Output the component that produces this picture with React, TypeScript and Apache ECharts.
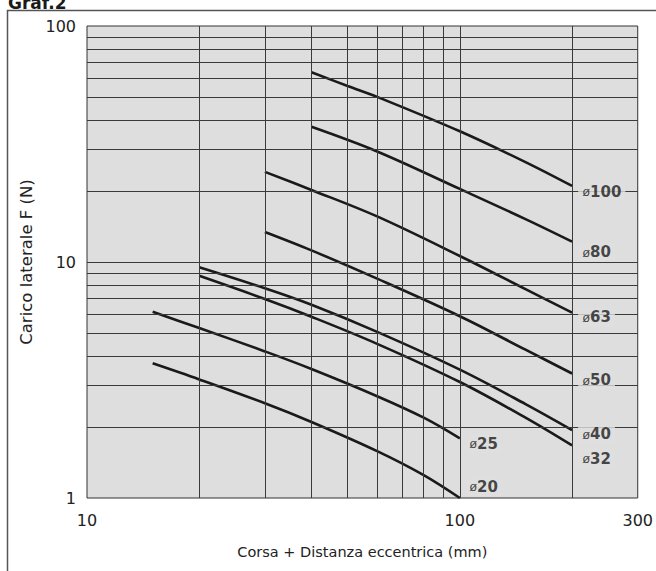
import React, { useEffect, useRef } from "react";
import * as echarts from "echarts";

// Axis tick labels
const xTickLabels = [10, 100, 300];
const yTickLabels = [1, 10, 100];
// Grid lines (log grid)
const gridX = [20, 30, 40, 50, 60, 70, 80, 90, 100, 200];
const gridY = [2, 3, 4, 5, 6, 7, 8, 9, 10, 20, 30, 40, 50, 60, 70, 80, 90];

// Curves: stroke + eccentric distance (mm) vs lateral load F (N)
const x100 = [40, 50, 60, 100, 150, 200];
const f100 = [63.7, 55.7, 50.1, 35.8, 26.5, 21.0];
const x80 = [40, 60, 100, 150, 200];
const f80 = [37.4, 29.4, 20.4, 15.2, 12.2];
const x63 = [30, 40, 60, 100, 150, 200];
const f63 = [24.1, 20.2, 15.6, 10.6, 7.67, 6.1];
const x50 = [30, 40, 60, 100, 150, 200];
const f50 = [13.4, 11.2, 8.5, 5.89, 4.25, 3.37];
const x40 = [20, 30, 40, 60, 100, 150, 200];
const f40 = [9.5, 7.74, 6.59, 5.06, 3.5, 2.5, 1.94];
const x32 = [20, 30, 40, 60, 100, 150, 200];
const f32 = [8.74, 6.97, 5.86, 4.5, 3.1, 2.19, 1.67];
const x25 = [15, 20, 30, 40, 60, 80, 100];
const f25 = [6.15, 5.25, 4.18, 3.52, 2.7, 2.19, 1.79];
const x20 = [15, 20, 30, 40, 60, 80, 100];
const f20 = [3.72, 3.18, 2.52, 2.1, 1.58, 1.25, 1.0];

// Curve labels (bore diameters) and where they sit
const boreNames = ["100", "80", "63", "50", "40", "32", "25", "20"];
const boreLabelX = [207, 207, 207, 207, 207, 207, 103, 103];
const boreLabelY = [19.8, 11.0, 5.82, 3.16, 1.865, 1.47, 1.7, 1.114];

const FONT = "'Liberation Sans', Arial, Helvetica, sans-serif";
const WIDE = "'DejaVu Sans', 'Liberation Sans', Arial, sans-serif";

const curves: [number[], number[]][] = [
  [x100, f100],
  [x80, f80],
  [x63, f63],
  [x50, f50],
  [x40, f40],
  [x32, f32],
  [x25, f25],
  [x20, f20],
];

export default function App() {
  const ref = useRef<HTMLDivElement>(null);
  useEffect(() => {
    if (!ref.current) return;
    const chart = echarts.init(ref.current, undefined, { renderer: "svg" });
    const gridColor = "#3a3a3a";
    const series: any[] = [
      {
        type: "line",
        data: [],
        z: 1,
        silent: true,
        markLine: {
          silent: true,
          symbol: ["none", "none"],
          label: { show: false },
          emphasis: { disabled: true },
          lineStyle: { color: gridColor, width: 1, type: "solid" },
          data: [
            ...gridX.map((v) => ({ xAxis: v })),
            ...gridY.map((v) => ({ yAxis: v })),
          ],
        },
      },
      ...curves.map(([xs, ys], i) => ({
        type: "line",
        name: "ø" + boreNames[i],
        z: 3,
        smooth: 0.35,
        showSymbol: false,
        symbol: "none",
        silent: true,
        lineStyle: { color: "#1a1a1a", width: 2.6 },
        data: xs.map((x, j) => [x, ys[j]]),
      })),
      {
        type: "scatter",
        z: 5,
        silent: true,
        symbolSize: 1,
        itemStyle: { color: "rgba(0,0,0,0)" },
        data: boreNames.map((n, i) => [boreLabelX[i], boreLabelY[i], n]),
        label: {
          show: true,
          position: "right",
          distance: 0,
          backgroundColor: "#dedede",
          padding: [2, 4, 2, 4],
          formatter: (p: any) => "{a|ø}{b|" + p.data[2] + "}",
          rich: {
            a: { fontSize: 13, fontFamily: FONT, color: "#1a1a1a" },
            b: { fontSize: 15, fontWeight: "bold", fontFamily: WIDE, color: "#1a1a1a" },
          },
        },
      },
    ];
    chart.setOption({
      animation: false,
      backgroundColor: "#ffffff",
      grid: {
        left: 87,
        right: 10,
        top: 26,
        bottom: 73,
        show: true,
        backgroundColor: "#dedede",
        borderColor: "#333333",
        borderWidth: 1,
      },
      xAxis: {
        type: "log",
        logBase: 10,
        min: 10,
        max: 300,
        axisLine: { show: false },
        axisTick: { show: false },
        splitLine: { show: false },
        axisLabel: {
          customValues: xTickLabels,
          fontSize: 16,
          color: "#222",
          fontFamily: WIDE,
          margin: 14,
        },
        name: "Corsa + Distanza eccentrica (mm)",
        nameLocation: "middle",
        nameGap: 46,
        nameTextStyle: { fontSize: 14.5, color: "#222", fontFamily: WIDE },
      },
      yAxis: {
        type: "log",
        logBase: 10,
        min: 1,
        max: 100,
        axisLine: { show: false },
        axisTick: { show: false },
        splitLine: { show: false },
        axisLabel: {
          customValues: yTickLabels,
          fontSize: 16,
          color: "#222",
          fontFamily: WIDE,
          margin: 11,
        },
        name: "Carico laterale F (N)",
        nameLocation: "middle",
        nameGap: 50,
        nameTextStyle: { fontSize: 16.5, color: "#222", fontFamily: WIDE },
      },
      graphic: [
        {
          type: "rect",
          z: -10,
          shape: { x: 7.5, y: 10.5, width: 700, height: 700 },
          style: { fill: "none", stroke: "#555", lineWidth: 1.5 },
          silent: true,
        },
        {
          type: "text",
          x: 8,
          y: 11,
          style: {
            text: "Graf.2",
            fontSize: 17,
            fontWeight: "bold",
            fontFamily: WIDE,
            fill: "#1a1a1a",
            verticalAlign: "bottom",
          },
          silent: true,
        },
      ],
      series,
    });
    return () => chart.dispose();
  }, []);
  return (
    <div
      ref={ref}
      style={{ position: "fixed", left: 0, top: 0, width: 656, height: 571 }}
    />
  );
}
